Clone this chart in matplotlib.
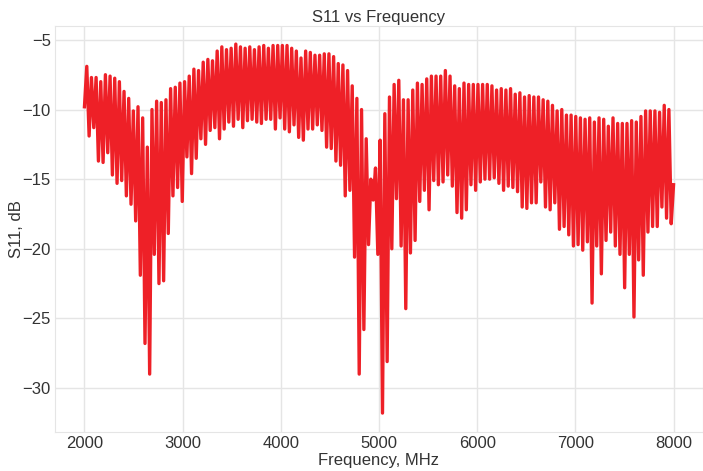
import numpy as np
import matplotlib
matplotlib.use("Agg")
import matplotlib.pyplot as plt

s11_2000_3000 = [-9.8,
    -6.9, -11.9, -7.7, -11.3, -7.7, -13.7, -8.0, -13.8, -7.5, -13.1,
    -7.6, -14.7, -7.75, -15.3, -8.0, -15.1, -8.7, -16.2, -9.2, -16.8,
    -10.1, -18.0, -9.8, -21.9, -10.6, -26.8, -12.7, -29.0, -10.0, -20.4,
    -9.4, -22.5, -9.5, -22.3, -9.3, -18.9, -8.5, -16.2, -8.4, -15.6]
s11_3000_4000 = [-8.1, -16.6,
    -8.0, -13.4, -7.6, -14.6, -7.1, -13.5, -7.2, -12.1, -6.6, -12.5,
    -6.4, -11.5, -6.5, -11.3, -5.8, -12.1, -5.5, -11.4, -5.7, -10.9,
    -5.6, -11.2, -5.3, -10.7, -5.5, -11.3, -5.6, -10.8, -5.5, -10.7,
    -5.7, -10.9, -5.5, -11.0, -5.4, -10.7, -5.6, -10.7, -5.4, -11.4]
s11_4000_4950 = [-5.4, -10.6,
    -5.4, -11.4, -5.4, -11.6, -5.6, -11.1, -5.8, -12.0, -6.3, -12.2,
    -5.8, -11.4, -5.9, -11.4, -6.1, -11.1, -6.1, -11.5, -6.0, -12.7,
    -6.0, -12.8, -6.2, -13.7, -6.7, -14.0, -6.8, -16.2, -7.2, -15.8,
    -8.3, -20.6, -9.2, -29.0, -10.0, -25.8, -12.1, -19.7,
    -15.0, -16.5, -14.2, -20.4]
s11_4950_6000 = [-12.2, -31.8,
    -10.3, -28.1, -9.1, -20.0, -8.2, -16.4, -7.9, -19.8, -9.3, -24.3,
    -9.3, -20.3, -8.6, -19.4, -8.1, -16.6, -8.2, -15.8, -7.8, -17.2,
    -7.6, -15.1, -7.6, -15.4, -7.6, -15.2, -7.2, -14.7, -7.6, -15.5,
    -8.3, -17.4, -8.5, -17.8, -8.1, -17.2, -8.2, -15.4, -8.2, -15.8]
s11_6000_7000 = [
    -8.2, -15.2, -8.2, -15.0, -8.2, -15.0, -8.3, -14.9, -8.6, -15.3,
    -8.5, -15.8, -8.6, -15.5, -8.5, -15.6, -8.9, -15.9, -8.8, -17.0,
    -9.1, -17.1, -9.0, -16.7, -9.1, -16.7, -9.1, -15.2, -9.3, -17.0,
    -9.4, -17.2, -9.7, -16.7, -10.1, -18.6, -10.0, -18.4, -10.4, -19.0,
    -10.4]
s11_7000_8000 = [-19.8,
    -10.5, -19.7, -10.6, -20.1, -10.7, -19.5, -10.6, -23.9, -10.9, -19.8,
    -10.6, -21.8, -10.7, -19.4, -11.2, -18.8, -10.6, -19.8, -11.0, -20.4,
    -11.0, -22.8, -11.0, -20.4, -10.8, -24.9, -10.9, -20.8, -10.5, -21.9,
    -10.1, -18.8, -10.1, -18.4, -10.1, -18.4, -10.2, -17.0, -9.7, -17.8,
    -10.0, -18.2, -15.4]

s11 = (s11_2000_3000 + s11_3000_4000 + s11_4000_4950 + s11_4950_6000
       + s11_6000_7000 + s11_7000_8000)
f_start, f_stop = 2000, 8000
freq = np.linspace(f_start, f_stop, len(s11))

plt.rcParams['font.family'] = ['Liberation Sans', 'DejaVu Sans']

fig = plt.figure(figsize=(7.03, 4.71), dpi=100)
# axes box: x 55..703 px, y 26..432 px
ax = fig.add_axes([55 / 703, 39 / 471, 648 / 703, 406 / 471])

ax.plot(freq, s11, color='#ee2027', lw=2.4, solid_joinstyle='round')

ax.set_xlim(1700, 8300)
ax.set_ylim(-33.16, -4.0)
ax.set_xticks([2000, 3000, 4000, 5000, 6000, 7000, 8000])
ax.set_yticks([-5, -10, -15, -20, -25, -30])

ax.grid(True, color='#e5e5e5', lw=1.0)
ax.set_axisbelow(True)
for s in ax.spines.values():
    s.set_color('#e5e5e5')
ax.tick_params(length=0, labelsize=12, labelcolor='#333333', pad=3)

ax.set_title('S11 vs Frequency', fontsize=12, color='#333333', pad=3)
ax.set_xlabel('Frequency, MHz', fontsize=12, color='#333333', labelpad=1)
ax.set_ylabel('S11, dB', fontsize=12, color='#333333', labelpad=-1)

fig.savefig('out.png', dpi=100)
